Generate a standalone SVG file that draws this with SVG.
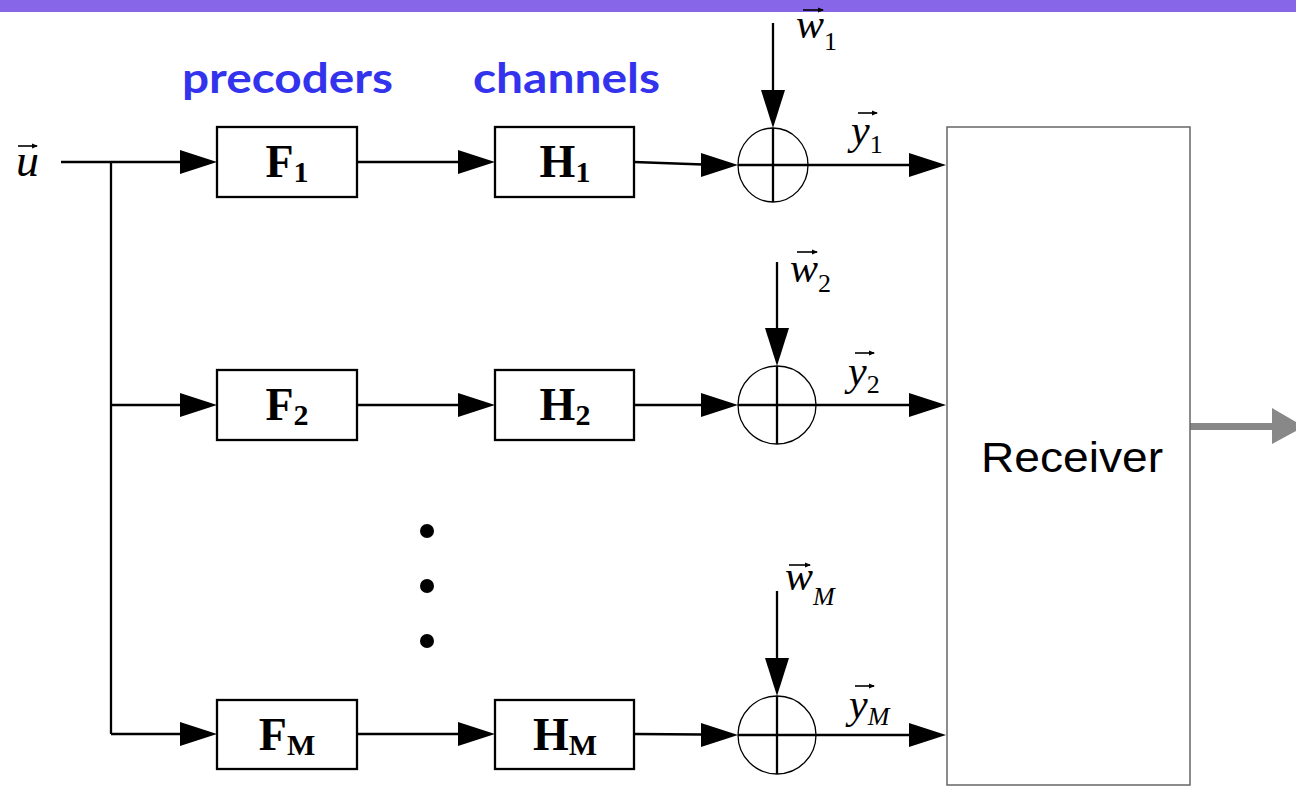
<svg xmlns="http://www.w3.org/2000/svg" width="1296" height="787" viewBox="0 0 1296 787">
<defs>
<style>
.ln{stroke:#000;stroke-width:2.3;fill:none}
.box{fill:#fff;stroke:#000;stroke-width:2.3}
.sum{fill:none;stroke:#000;stroke-width:1.3}
.ah{fill:#000}
.bl{font-family:"Liberation Serif",serif;font-weight:bold;font-size:46px;fill:#000}
.sb{font-size:30px}
.it{font-family:"Liberation Serif",serif;font-style:italic;font-size:42px;fill:#000}
.si{font-family:"Liberation Serif",serif;font-style:normal;font-size:26px}
.sim{font-family:"Liberation Serif",serif;font-style:italic;font-size:26px}
.hd{font-family:Lato,"Noto Sans",sans-serif;font-weight:bold;font-size:42px;fill:#3333ee}
.vec{stroke:#000;stroke-width:1.6}
</style>
<marker id="va" markerWidth="6" markerHeight="6" refX="5" refY="3" orient="auto" markerUnits="userSpaceOnUse"><path d="M0,0.5 L6,3 L0,5.5 Z" fill="#000"/></marker>
</defs>
<rect x="0" y="0" width="1296" height="12" fill="#8866e8"/>

<g id="headings">
<text class="hd" x="182" y="93" textLength="211" lengthAdjust="spacingAndGlyphs">precoders</text>
<text class="hd" x="473" y="93" textLength="187" lengthAdjust="spacingAndGlyphs">channels</text>
</g>

<g id="connectors">
<line class="ln" x1="61" y1="162" x2="182" y2="162"/>
<line class="ln" x1="111" y1="162" x2="111" y2="734"/>
<line class="ln" x1="111" y1="405" x2="182" y2="405"/>
<line class="ln" x1="111" y1="734" x2="182" y2="734"/>
<path class="ah" d="M180,150 L217,162 L180,174 Z"/>
<path class="ah" d="M180,393 L217,405 L180,417 Z"/>
<path class="ah" d="M180,722 L217,734 L180,746 Z"/>
<line class="ln" x1="357" y1="162" x2="460" y2="162"/>
<line class="ln" x1="357" y1="405" x2="460" y2="405"/>
<line class="ln" x1="357" y1="734" x2="460" y2="734"/>
<path class="ah" d="M458,150 L495,162 L458,174 Z"/>
<path class="ah" d="M458,393 L495,405 L458,417 Z"/>
<path class="ah" d="M458,722 L495,734 L458,746 Z"/>
<line class="ln" x1="634" y1="162" x2="703" y2="164.5"/>
<line class="ln" x1="634" y1="405" x2="703" y2="405"/>
<line class="ln" x1="634" y1="734" x2="703" y2="734.5"/>
<path class="ah" d="M701,153 L738,165 L701,177 Z"/>
<path class="ah" d="M701,393 L738,405 L701,417 Z"/>
<path class="ah" d="M701,723 L738,735 L701,747 Z"/>
<line class="ln" x1="808" y1="165" x2="912" y2="165"/>
<line class="ln" x1="816" y1="405" x2="912" y2="405"/>
<line class="ln" x1="816" y1="735" x2="912" y2="735"/>
<path class="ah" d="M909,153 L946,165 L909,177 Z"/>
<path class="ah" d="M909,393 L946,405 L909,417 Z"/>
<path class="ah" d="M909,723 L946,735 L909,747 Z"/>
<line class="ln" x1="773" y1="23" x2="773" y2="92"/>
<line class="ln" x1="777" y1="262" x2="777" y2="330"/>
<line class="ln" x1="777" y1="591" x2="777" y2="660"/>
<path class="ah" d="M761,90 L773,128 L785,90 Z"/>
<path class="ah" d="M765,328 L777,366 L789,328 Z"/>
<path class="ah" d="M765,658 L777,696 L789,658 Z"/>
<path d="M1190,423 L1272,423 L1272,408 L1304,426.5 L1272,444 L1272,430 L1190,430 Z" fill="#888"/>
</g>

<g id="input-u">
<text class="it" x="16" y="176" style="font-size:46px">u</text>
<line class="vec" x1="18" y1="146" x2="37" y2="146" marker-end="url(#va)"/>
</g>

<g id="F1"><rect class="box" x="217" y="127" width="140" height="70"/><text class="bl" x="287" y="177" text-anchor="middle">F<tspan class="sb" dy="5">1</tspan></text></g>
<g id="H1"><rect class="box" x="495" y="127" width="139" height="70"/><text class="bl" x="565" y="177" text-anchor="middle">H<tspan class="sb" dy="5">1</tspan></text></g>
<g id="F2"><rect class="box" x="217" y="370" width="140" height="70"/><text class="bl" x="287" y="420" text-anchor="middle">F<tspan class="sb" dy="5">2</tspan></text></g>
<g id="H2"><rect class="box" x="495" y="370" width="139" height="70"/><text class="bl" x="565" y="420" text-anchor="middle">H<tspan class="sb" dy="5">2</tspan></text></g>
<g id="FM"><rect class="box" x="217" y="700" width="140" height="69"/><text class="bl" x="287" y="750" text-anchor="middle">F<tspan class="sb" dy="5">M</tspan></text></g>
<g id="HM"><rect class="box" x="495" y="700" width="139" height="69"/><text class="bl" x="565" y="750" text-anchor="middle">H<tspan class="sb" dy="5">M</tspan></text></g>

<g id="sum1"><ellipse class="sum" cx="773" cy="165" rx="35" ry="37"/><line class="ln" x1="738" y1="165" x2="808" y2="165"/><line class="ln" x1="773" y1="128" x2="773" y2="202"/></g>
<g id="sum2"><circle class="sum" cx="777" cy="405" r="39"/><line class="ln" x1="738" y1="405" x2="816" y2="405"/><line class="ln" x1="777" y1="366" x2="777" y2="444"/></g>
<g id="sumM"><circle class="sum" cx="777" cy="735" r="39"/><line class="ln" x1="738" y1="735" x2="816" y2="735"/><line class="ln" x1="777" y1="696" x2="777" y2="774"/></g>

<g id="label-w1"><text class="it" x="796" y="38">w<tspan class="si" dy="12">1</tspan></text><line class="vec" x1="803" y1="10" x2="823" y2="10" marker-end="url(#va)"/></g>
<g id="label-y1"><text class="it" x="851" y="144">y<tspan class="si" dy="9">1</tspan></text><line class="vec" x1="858" y1="113" x2="877" y2="113" marker-end="url(#va)"/></g>
<g id="label-w2"><text class="it" x="790" y="282">w<tspan class="si" dy="10">2</tspan></text><line class="vec" x1="797" y1="252" x2="817" y2="252" marker-end="url(#va)"/></g>
<g id="label-y2"><text class="it" x="848" y="385">y<tspan class="si" dy="8">2</tspan></text><line class="vec" x1="855" y1="353" x2="874" y2="353" marker-end="url(#va)"/></g>
<g id="label-wM"><text class="it" x="785" y="590">w<tspan class="sim" dy="15">M</tspan></text><line class="vec" x1="789" y1="565" x2="810" y2="565" marker-end="url(#va)"/></g>
<g id="label-yM"><text class="it" x="849" y="718">y<tspan class="sim" dy="7">M</tspan></text><line class="vec" x1="855" y1="686" x2="874" y2="686" marker-end="url(#va)"/></g>

<g id="dots"><circle cx="427" cy="531" r="7"/><circle cx="427" cy="586" r="7"/><circle cx="427" cy="641" r="7"/></g>

<g id="receiver"><rect x="947" y="127" width="243" height="658" fill="#fff" stroke="#666" stroke-width="1.5"/><text x="1072" y="472" text-anchor="middle" font-family="Liberation Sans,Arial,sans-serif" font-size="42" textLength="182" lengthAdjust="spacingAndGlyphs">Receiver</text></g>
</svg>
